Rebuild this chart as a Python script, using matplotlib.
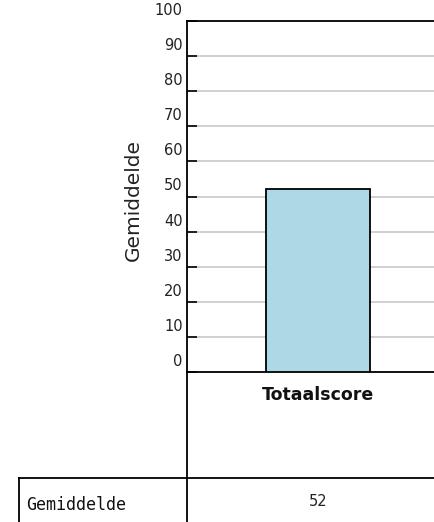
import matplotlib
matplotlib.use("Agg")
import matplotlib.pyplot as plt
from matplotlib.lines import Line2D
import matplotlib.transforms as mtransforms

categories = ['Totaalscore']
means = [52]
y_ticks = [0, 10, 20, 30, 40, 50, 60, 70, 80, 90, 100]
row_label = 'Gemiddelde'

W, H = 434, 522
fig = plt.figure(figsize=(W / 100, H / 100), dpi=100)

# plot area runs off the right edge, like the original
x0, x1, y_top, y_zero = 187, 449, 21, 372
ax = fig.add_axes([x0 / W, (H - y_zero) / H, (x1 - x0) / W, (y_zero - y_top) / H])

xs = list(range(len(categories)))
ax.bar(xs, means, width=0.4, color='#add8e6', edgecolor='black', linewidth=1.3, zorder=3)

ax.set_xlim(-0.5, len(categories) - 0.5)
ax.set_ylim(0, 100)
ax.set_yticks(y_ticks)
ax.set_yticklabels([str(t) for t in y_ticks], fontsize=10.5, color='#222222', va='bottom')
ax.tick_params(axis='y', direction='in', length=7, width=1.2, pad=3)
offset = mtransforms.ScaledTranslation(0, 3 / 100, fig.dpi_scale_trans)
for lab in ax.get_yticklabels():
    lab.set_transform(lab.get_transform() + offset)

ax.set_xticks(xs)
ax.set_xticklabels(categories, fontsize=12.5, fontweight='bold', color='#111111')
ax.tick_params(axis='x', length=0, pad=10)

ax.yaxis.grid(True, color='#c8c8c8', linewidth=1.2, zorder=0)
ax.set_axisbelow(True)
for side in ['left', 'top', 'bottom']:
    ax.spines[side].set_linewidth(1.3)
ax.spines['right'].set_visible(False)

fig.text(133 / W, 1 - 200 / H, 'Gemiddelde', rotation=90, ha='center', va='center',
         fontsize=14.5, color='#222222')

# axis line keeps going down through the table
def fline(xa, ya, xb, yb):
    fig.add_artist(Line2D([xa / W, xb / W], [1 - ya / H, 1 - yb / H],
                          color='black', linewidth=1.3))

fline(x0, y_zero, x0, H)
fline(19, 478, W, 478)
fline(19, 478, 19, H)

fig.text(26 / W, 1 - 505 / H, row_label, ha='left', va='center',
         family='DejaVu Sans Mono', fontsize=12, color='#111111')
for i, v in enumerate(means):
    xc = x0 + (i + 0.5) * (x1 - x0) / len(categories)
    fig.text(xc / W, 1 - 502 / H, str(v), ha='center', va='center',
             fontsize=10.5, color='#222222')

fig.savefig('out.png', dpi=100)
